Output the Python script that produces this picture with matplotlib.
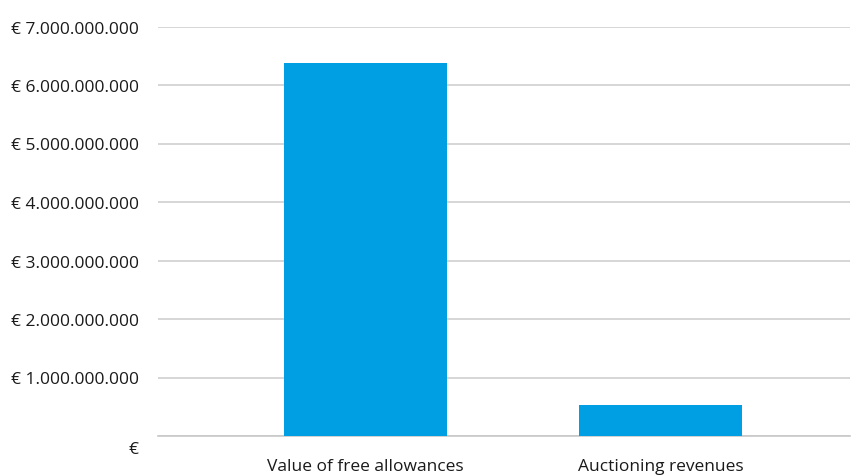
import matplotlib
matplotlib.use("Agg")
import matplotlib.pyplot as plt
import matplotlib.transforms as mtransforms

# values (euro)
categories = ["Value of free allowances", "Auctioning revenues"]
values = [6.38e9, 0.53e9]
yticks = [0, 1e9, 2e9, 3e9, 4e9, 5e9, 6e9, 7e9]


def euro(v):
    if v == 0:
        return "€"
    return "€ " + f"{int(v):,}".replace(",", ".")


plt.rcParams['font.family'] = ['Open Sans', 'DejaVu Sans']

fig = plt.figure(figsize=(8.52, 4.77), dpi=100)
W, H = 852, 477
ax = fig.add_axes([158 / W, (H - 437) / H, (850 - 158) / W, (437 - 27.5) / H])

x = list(range(len(categories)))
ax.bar(x, values, width=0.553, color="#009FE3", zorder=3)

ax.set_ylim(0, 7e9)
ax.set_xlim(-0.703, 1.642)
ax.set_yticks(yticks)
ax.set_yticklabels([euro(v) for v in yticks])
ax.set_xticks(x)
ax.set_xticklabels(categories)

ax.grid(axis="y", color="#D0D0D0", linewidth=1.2, zorder=0)
for s in ["top", "right", "left"]:
    ax.spines[s].set_visible(False)
ax.spines["bottom"].set_color("#C8C8C8")
ax.spines["bottom"].set_linewidth(1.2)
ax.tick_params(axis="y", length=0, pad=14, labelsize=12.5, labelcolor="#1a1a1a")
ax.tick_params(axis="x", length=0, pad=16, labelsize=12.5, labelcolor="#1a1a1a")

# zero label sits a bit lower than its gridline
zl = ax.get_yticklabels()[0]
zl.set_transform(zl.get_transform() + mtransforms.ScaledTranslation(0, -11 / 100, fig.dpi_scale_trans))

fig.savefig("out.png", dpi=100)
